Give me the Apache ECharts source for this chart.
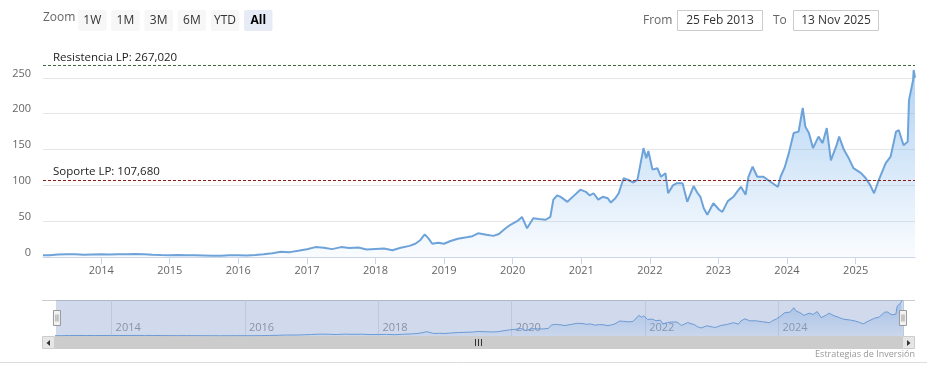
<!DOCTYPE html>
<html>
<head>
<meta charset="utf-8">
<title>AMD - Estrategias de Inversión</title>
<script src="https://cdn.jsdelivr.net/npm/echarts@6/dist/echarts.min.js"></script>
<style>
html, body { margin: 0; padding: 0; background: #fff; }
#main { width: 927px; height: 378px; }
</style>
</head>
<body>
<div id="main"></div>
<script>
// datos (cierre aproximado)
const dates = [
    '2013-02-25', '2013-04-01', '2013-05-15', '2013-07-01', '2013-08-15', '2013-10-01', '2013-11-15',
    '2014-01-01', '2014-02-15', '2014-04-01', '2014-05-15', '2014-07-01', '2014-08-15', '2014-10-01', '2014-11-15',
    '2015-01-01', '2015-02-15', '2015-04-01', '2015-05-15', '2015-07-01', '2015-08-15', '2015-10-01', '2015-11-15',
    '2016-01-01', '2016-02-15', '2016-04-01', '2016-05-15', '2016-07-01', '2016-08-15', '2016-10-01', '2016-11-15',
    '2017-01-01', '2017-02-15', '2017-04-01', '2017-05-15', '2017-07-01', '2017-08-15', '2017-10-01', '2017-11-15',
    '2018-01-01', '2018-02-15', '2018-04-01', '2018-05-15', '2018-07-01', '2018-08-01', '2018-08-25', '2018-09-20',
    '2018-10-10', '2018-10-30', '2018-12-01',
    '2019-01-01', '2019-02-01', '2019-03-15', '2019-05-01', '2019-06-01', '2019-07-01', '2019-08-15', '2019-09-20',
    '2019-10-20', '2019-11-20', '2019-12-20',
    '2020-01-25', '2020-02-20', '2020-03-18', '2020-04-20', '2020-05-20', '2020-06-25', '2020-07-20', '2020-08-05',
    '2020-08-25', '2020-09-13', '2020-10-19', '2020-11-20', '2020-12-27',
    '2021-01-25', '2021-02-15', '2021-03-07', '2021-04-01', '2021-04-25', '2021-05-22', '2021-06-07', '2021-07-01',
    '2021-07-19', '2021-08-14', '2021-09-05', '2021-10-05', '2021-10-27', '2021-11-28', '2021-12-06', '2021-12-13',
    '2021-12-24',
    '2022-01-15', '2022-02-10', '2022-03-01', '2022-03-25', '2022-04-08', '2022-05-04', '2022-05-25', '2022-06-24',
    '2022-07-19', '2022-08-22', '2022-09-10', '2022-09-27', '2022-10-15', '2022-11-03', '2022-12-05',
    '2023-01-05', '2023-01-22', '2023-02-20', '2023-03-22', '2023-04-10', '2023-05-01', '2023-05-26', '2023-06-10',
    '2023-07-02', '2023-07-27', '2023-08-29', '2023-10-05', '2023-11-14', '2023-11-28', '2023-12-20',
    '2024-01-11', '2024-02-06', '2024-03-03', '2024-03-25', '2024-04-08', '2024-04-27', '2024-05-19', '2024-06-17',
    '2024-07-09', '2024-07-31', '2024-08-22', '2024-09-20', '2024-10-05', '2024-10-30', '2024-11-25', '2024-12-20',
    '2025-01-30', '2025-02-24', '2025-03-20', '2025-04-09', '2025-05-05', '2025-06-10', '2025-07-06', '2025-08-04',
    '2025-08-19', '2025-09-13', '2025-10-05', '2025-10-12', '2025-11-03', '2025-11-06', '2025-11-13'
]
const prices = [
    2.6, 2.4, 3.5, 4.0, 3.7, 3.3, 3.6,
    3.9, 3.5, 4.0, 4.0, 4.2, 4.0, 3.3, 2.8,
    2.6, 2.9, 2.6, 2.4, 2.1, 1.8, 1.9, 2.3,
    2.4, 2.0, 2.8, 3.9, 5.2, 7.2, 6.8, 8.6,
    10.8, 13.8, 13.0, 11.0, 13.8, 12.5, 13.2, 10.5,
    11.2, 11.8, 9.5, 12.8, 15.5, 18.5, 23, 31.5,
    26, 18.5, 20,
    18.5, 22, 25.5, 27.5, 29, 33, 31, 29.5,
    32, 39, 45,
    50, 56, 40, 54, 53, 52, 56, 80,
    86, 84, 77, 85, 94,
    91, 86, 89, 80, 84, 82, 76, 82,
    89, 110, 108, 104, 108, 152, 154, 138,
    148,
    122, 124, 112, 117, 89, 100, 103, 103,
    77, 99, 90, 84, 68, 59, 75,
    66, 63, 78, 84, 91, 98, 87, 112,
    126, 112, 112, 105, 98, 112, 125,
    145, 173, 175, 208, 182, 173, 152, 168,
    159, 180, 135, 155, 168, 150, 138, 124,
    117, 110, 100, 89, 108, 131, 140, 175,
    177, 156, 161, 219, 247, 261, 250
]
const resistencia = 267.02
const soporte = 107.68
const zoomButtons = ['1W', '1M', '3M', '6M', 'YTD', 'All']
const fromDate = '25 Feb 2013'
const toDate = '13 Nov 2025'

const FONT = '"Open Sans", "Noto Sans", sans-serif'
const YEAR = 365.25 * 24 * 3600 * 1000

const serie = dates.map((d, i) => [d, prices[i]])
const fmt = v => v.toFixed(3).replace('.', ',')

const myChart = echarts.init(document.getElementById('main'))

// botones del selector de rango
const graphic = [
    { type: 'text', left: 43, top: 12, style: { text: 'Zoom', fill: '#666', font: '12px ' + FONT } }
]
zoomButtons.forEach((b, i) => {
    const sel = b === 'All'
    const x = 78 + i * 33.2
    graphic.push({
        type: 'rect', shape: { x: x, y: 10, width: 28.5, height: 21, r: 2 },
        style: { fill: sel ? '#e6ebf5' : '#f7f7f7' }
    })
    graphic.push({
        type: 'text', x: x + 14.25, y: 20.5,
        style: { text: b, fill: sel ? '#000' : '#333', font: (sel ? 'bold ' : '') + '12px ' + FONT, align: 'center', verticalAlign: 'middle' }
    })
})
graphic.push(
    { type: 'text', x: 643, y: 20.5, style: { text: 'From', fill: '#666', font: '12px ' + FONT, verticalAlign: 'middle' } },
    { type: 'rect', shape: { x: 677.5, y: 10.5, width: 85, height: 20 }, style: { fill: '#fff', stroke: '#ccc' } },
    { type: 'text', x: 720, y: 20.5, style: { text: fromDate, fill: '#333', font: '12px ' + FONT, align: 'center', verticalAlign: 'middle' } },
    { type: 'text', x: 773, y: 20.5, style: { text: 'To', fill: '#666', font: '12px ' + FONT, verticalAlign: 'middle' } },
    { type: 'rect', shape: { x: 793.5, y: 10.5, width: 85, height: 20 }, style: { fill: '#fff', stroke: '#ccc' } },
    { type: 'text', x: 836, y: 20.5, style: { text: toDate, fill: '#333', font: '12px ' + FONT, align: 'center', verticalAlign: 'middle' } }
)
// borde del navegador y barra de scroll
graphic.push(
    { type: 'line', shape: { x1: 42, y1: 300.5, x2: 915, y2: 300.5 }, style: { stroke: '#ccc', lineWidth: 1 } },
    { type: 'rect', shape: { x: 55, y: 336, width: 847, height: 13 }, style: { fill: '#cccccc' } },
    { type: 'rect', shape: { x: 42.5, y: 336.5, width: 12, height: 12 }, style: { fill: '#e6e6e6', stroke: '#ccc' } },
    { type: 'polygon', shape: { points: [[50, 340], [50, 346], [46.5, 343]] }, style: { fill: '#333' } },
    { type: 'rect', shape: { x: 902.5, y: 336.5, width: 12, height: 12 }, style: { fill: '#e6e6e6', stroke: '#ccc' } },
    { type: 'polygon', shape: { points: [[907, 340], [907, 346], [910.5, 343]] }, style: { fill: '#333' } },
    { type: 'line', shape: { x1: 475.5, y1: 339, x2: 475.5, y2: 346 }, style: { stroke: '#333', lineWidth: 1 } },
    { type: 'line', shape: { x1: 478.5, y1: 339, x2: 478.5, y2: 346 }, style: { stroke: '#333', lineWidth: 1 } },
    { type: 'line', shape: { x1: 481.5, y1: 339, x2: 481.5, y2: 346 }, style: { stroke: '#333', lineWidth: 1 } },
    { type: 'line', shape: { x1: 0, y1: 362.5, x2: 927, y2: 362.5 }, style: { stroke: '#ddd', lineWidth: 1 } },
    { type: 'text', x: 915, y: 354, style: { text: 'Estrategias de Inversión', fill: '#999', font: '9px ' + FONT, align: 'right', verticalAlign: 'middle' } }
)

myChart.setOption({
    animation: false,
    textStyle: { fontFamily: FONT },
    graphic: graphic,
    grid: [
        { left: 43, right: 12, top: 60, bottom: 121 },
        { left: 55, right: 24, top: 300, height: 36 }
    ],
    xAxis: [{
        type: 'time',
        min: dates[0],
        max: dates[dates.length - 1],
        minInterval: YEAR * 0.99,
        maxInterval: YEAR * 1.01,
        axisLine: { lineStyle: { color: '#ccd6eb' } },
        axisTick: { show: true, length: 7, lineStyle: { color: '#ccd6eb' } },
        axisLabel: {
            color: '#666',
            fontSize: 11,
            margin: 8,
            formatter: v => String(new Date(v).getFullYear())
        },
        splitLine: { show: false }
    }, {
        // navegador: solo años pares
        type: 'time',
        gridIndex: 1,
        min: dates[0],
        max: dates[dates.length - 1],
        minInterval: YEAR * 0.99,
        maxInterval: YEAR * 1.01,
        axisLine: { show: false },
        axisTick: { show: false },
        axisLabel: {
            inside: true,
            color: '#999',
            fontSize: 11,
            margin: 3,
            align: 'left',
            padding: [0, 0, 0, 4],
            formatter: v => {
                const y = new Date(v).getFullYear()
                return y % 2 === 0 ? String(y) : ''
            }
        },
        splitLine: { show: true, lineStyle: { color: ['rgba(0,0,0,0)', '#e6e6e6'] } }
    }],
    yAxis: [{
        type: 'value',
        min: 0,
        max: 275,
        interval: 50,
        axisLine: { show: false },
        axisTick: { show: false },
        axisLabel: { color: '#666', fontSize: 11, margin: 12, verticalAlign: 'bottom', lineHeight: 9, showMaxLabel: false },
        splitLine: { showMaxLine: false, lineStyle: { color: '#e6e6e6' } }
    }, {
        type: 'value',
        gridIndex: 1,
        min: 0,
        max: 265,
        show: false
    }],
    dataZoom: [{
        type: 'slider',
        xAxisIndex: 0,
        filterMode: 'none',
        left: 55,
        right: 24,
        top: 300,
        height: 36,
        start: 0,
        end: 100,
        showDetail: false,
        showDataShadow: false,
        brushSelect: false,
        moveHandleSize: 0,
        backgroundColor: 'rgba(0,0,0,0)',
        borderColor: 'rgba(0,0,0,0)',
        fillerColor: 'rgba(102,133,194,0.3)',
        handleIcon: 'path://M0,0 L7,0 L7,15 L0,15 Z M2.5,4 L2.5,11 M4.5,4 L4.5,11',
        handleSize: 15,
        handleStyle: { color: '#f2f2f2', borderColor: '#999', borderWidth: 1 }
    }],
    series: [{
        name: 'AMD',
        type: 'line',
        data: serie,
        showSymbol: false,
        lineStyle: { width: 2, color: '#6ea3d9' },
        itemStyle: { color: '#6ea3d9' },
        areaStyle: {
            color: new echarts.graphic.LinearGradient(0, 0, 0, 1, [
                { offset: 0, color: 'rgba(124,181,236,0.85)' },
                { offset: 1, color: 'rgba(124,181,236,0.06)' }
            ])
        },
        markLine: {
            silent: true,
            symbol: 'none',
            animation: false,
            data: [{
                yAxis: resistencia,
                lineStyle: { color: '#3d6b3d', type: [3, 2], width: 1 },
                label: { formatter: 'Resistencia LP: ' + fmt(resistencia) }
            }, {
                yAxis: soporte,
                lineStyle: { color: '#8b1a1a', type: [3, 2], width: 1 },
                label: { formatter: 'Soporte LP: ' + fmt(soporte) }
            }],
            label: {
                position: 'insideStartTop',
                distance: [10, 2],
                color: '#222',
                fontSize: 11.5,
                fontFamily: FONT
            }
        }
    }, {
        name: 'nav',
        type: 'line',
        xAxisIndex: 1,
        yAxisIndex: 1,
        data: serie,
        silent: true,
        showSymbol: false,
        lineStyle: { width: 1, color: '#6ea3d9' },
        areaStyle: {
            color: new echarts.graphic.LinearGradient(0, 0, 0, 1, [
                { offset: 0, color: 'rgba(124,181,236,0.7)' },
                { offset: 1, color: 'rgba(124,181,236,0.1)' }
            ])
        }
    }]
})
</script>
</body>
</html>
